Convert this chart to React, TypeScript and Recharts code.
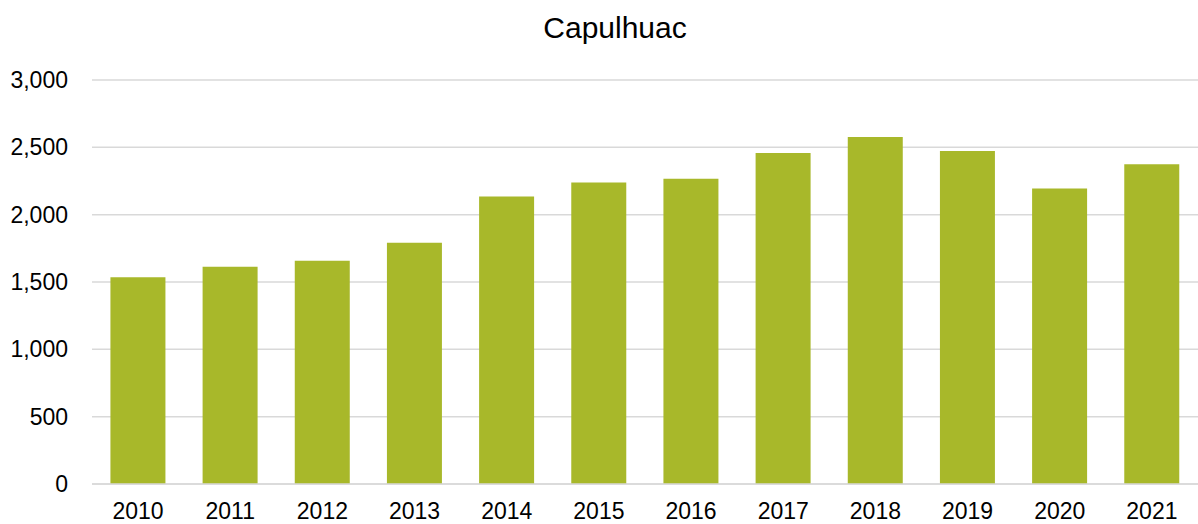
import { Bar, BarChart, CartesianGrid, XAxis, YAxis } from 'recharts';

const years = ['2010', '2011', '2012', '2013', '2014', '2015', '2016', '2017', '2018', '2019', '2020', '2021'];
const values = [1536, 1614, 1658, 1792, 2134, 2238, 2267, 2458, 2577, 2473, 2195, 2374];
const yTicks = [0, 500, 1000, 1500, 2000, 2500, 3000];

const data = years.map((year, i) => ({ year, value: values[i] }));

const font = '"Liberation Sans", Arial, sans-serif';

export default function App() {
  return (
    <div style={{ position: 'absolute', left: 0, top: 0, width: 1198, height: 524, background: '#fff' }}>
      <div
        style={{
          position: 'absolute',
          left: 0,
          top: 13,
          width: 1230,
          textAlign: 'center',
          fontFamily: font,
          fontSize: 30,
          lineHeight: '30px',
          color: '#000',
        }}
      >
        Capulhuac
      </div>
      <BarChart
        width={1198}
        height={524}
        data={data}
        margin={{ top: 80, right: 0, left: 0, bottom: 0 }}
        barCategoryGap="20%"
      >
        <CartesianGrid vertical={false} stroke="#d9d9d9" strokeWidth={1.5} />
        <XAxis
          dataKey="year"
          tickLine={false}
          axisLine={{ stroke: '#d9d9d9', strokeWidth: 1.5 }}
          tickMargin={13}
          height={40}
          tick={{ fill: '#000', fontSize: 23, fontFamily: font }}
        />
        <YAxis
          width={92}
          domain={[0, 3000]}
          ticks={yTicks}
          tickLine={false}
          axisLine={false}
          tickMargin={18}
          tickFormatter={(v: number) => v.toLocaleString('en-US')}
          tick={{ fill: '#000', fontSize: 23, fontFamily: font }}
        />
        <Bar dataKey="value" fill="#a8b82a" isAnimationActive={false} />
      </BarChart>
    </div>
  );
}
